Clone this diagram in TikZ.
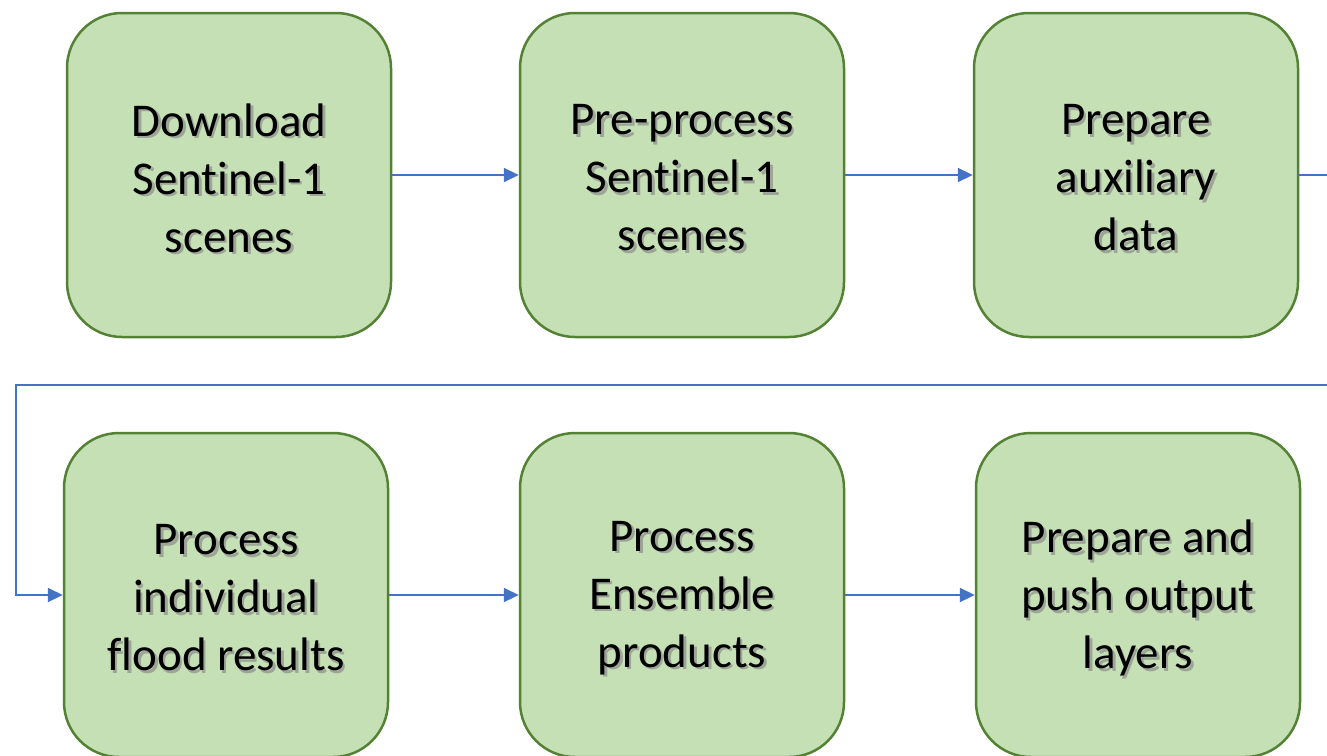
\documentclass[tikz,border=0pt]{standalone}
\usepackage{fontspec}
\setmainfont[Ligatures=NoCommon]{Carlito}
\usetikzlibrary{arrows.meta}
\definecolor{boxfill}{HTML}{C5E0B4}
\definecolor{boxline}{HTML}{548235}
\definecolor{arrowblue}{HTML}{4472C4}
\begin{document}
\begin{tikzpicture}[x=1pt,y=-1pt,
  box/.style={draw=boxline,fill=boxfill,line width=2.5pt,rounded corners=55pt,
    minimum width=324pt,minimum height=324pt,inner sep=0pt},
  txt/.style={align=center,font=\fontsize{47}{58}\selectfont,text=black},
  shade/.style={txt,text=black!45,opacity=0.7},
  conn/.style={draw=arrowblue,line width=2.2pt,-{Triangle[length=15pt,width=14pt]}}]
\useasboundingbox (0,0) rectangle (1327,755);
% boxes
\node[box] (b1) at (229,175) {};
\node[box] (b2) at (682,175) {};
\node[box] (b3) at (1136,175) {};
\node[box] (b4) at (226,595) {};
\node[box] (b5) at (682,595) {};
\node[box] (b6) at (1138,595) {};
% text shadows
\foreach \b/\t in {b1/{Download\\Sentinel-1\\scenes},b2/{Pre-process\\Sentinel-1\\scenes},b3/{Prepare\\auxiliary\\data},b4/{Process\\individual\\flood results},b5/{Process\\Ensemble\\products},b6/{Prepare and\\push output\\layers}}
  \node[shade] at ([shift={(2.5,5.5)}]\b.center) {\t};
% texts
\node[txt] (t1) at ([yshift=-3pt]b1.center) {Download\\Sentinel-1\\scenes};
\node[txt] (t2) at ([yshift=-3pt]b2.center) {Pre-process\\Sentinel-1\\scenes};
\node[txt] (t3) at ([yshift=-3pt]b3.center) {Prepare\\auxiliary\\data};
\node[txt] (t4) at ([yshift=-3pt]b4.center) {Process\\individual\\flood results};
\node[txt] (t5) at ([yshift=-3pt]b5.center) {Process\\Ensemble\\products};
\node[txt] (t6) at ([yshift=-3pt]b6.center) {Prepare and\\push output\\layers};
% connectors
\coordinate (r1) at (1345,175);
\coordinate (r2) at (1345,385);
\coordinate (l1) at (16,385);
\coordinate (l2) at (16,595);
\draw[conn] (b1.east) -- (b2.west);
\draw[conn] (b2.east) -- (b3.west);
\draw[conn] (b3.east) -- (r1) -- (r2) -- (l1) -- (l2) -- (b4.west);
\draw[conn] (b4.east) -- (b5.west);
\draw[conn] (b5.east) -- (b6.west);
\end{tikzpicture}
\end{document}
